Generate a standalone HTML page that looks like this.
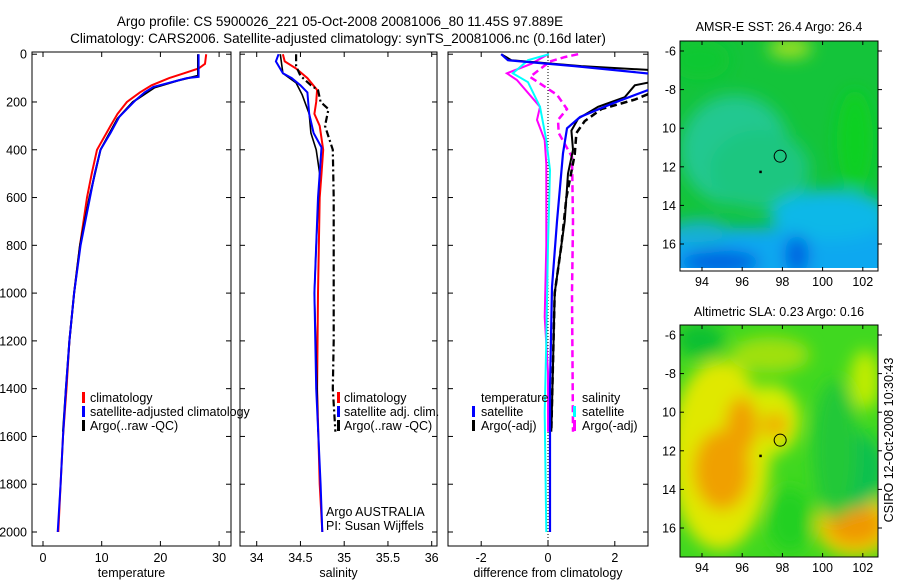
<!DOCTYPE html>
<html><head><meta charset="utf-8"><style>
body{margin:0;background:#fff;}
svg{display:block;font-family:"Liberation Sans",sans-serif;}
</style></head><body>
<svg id="fig" width="900" height="580" viewBox="0 0 900 580" xmlns="http://www.w3.org/2000/svg">
<defs>
<filter id="blur1" x="-50%" y="-50%" width="200%" height="200%"><feGaussianBlur stdDeviation="8"/></filter>
<clipPath id="c1"><rect x="32" y="52" width="199" height="494"/></clipPath>
<clipPath id="c2"><rect x="240" y="52" width="197" height="494"/></clipPath>
<clipPath id="c3"><rect x="448" y="52" width="200" height="494"/></clipPath>
<clipPath id="m1"><rect x="680" y="41" width="198" height="230"/></clipPath>
<clipPath id="m2"><rect x="680" y="325" width="198" height="232"/></clipPath>
</defs>
<text x="340" y="26" font-size="13.5" text-anchor="middle">Argo profile: CS 5900026_221 05-Oct-2008 20081006_80 11.45S 97.889E</text>
<text x="338" y="43" font-size="13.5" text-anchor="middle">Climatology: CARS2006. Satellite-adjusted climatology: synTS_20081006.nc (0.16d later)</text>

<g id="map1" clip-path="url(#m1)">
<rect x="680" y="41" width="198" height="230" fill="#14c43a"/>
<g filter="url(#blur1)">
<ellipse cx="735" cy="150" rx="55" ry="55" fill="#22c890"/>
<ellipse cx="760" cy="170" rx="50" ry="40" fill="#1cc680"/>
<ellipse cx="855" cy="140" rx="18" ry="50" fill="#10d020"/>
<ellipse cx="700" cy="60" rx="30" ry="20" fill="#10c830"/>
<ellipse cx="790" cy="48" rx="22" ry="10" fill="#a0e020"/>
<rect x="650" y="228" width="260" height="60" fill="#10a8f0"/>
<ellipse cx="830" cy="215" rx="60" ry="25" fill="#10b8e8"/>
<ellipse cx="720" cy="262" rx="40" ry="12" fill="#0060e0"/>
<ellipse cx="797" cy="255" rx="12" ry="20" fill="#0060e0"/>
<ellipse cx="700" cy="232" rx="30" ry="12" fill="#18b0d0"/>
</g>
<rect x="680" y="268" width="198" height="4" fill="#fff"/>
</g>
<rect x="680" y="41" width="198" height="230" fill="none" stroke="#000"/>

<g id="map2" clip-path="url(#m2)">
<rect x="680" y="325" width="198" height="232" fill="#40d820"/>
<g filter="url(#blur1)">
<ellipse cx="720" cy="455" rx="50" ry="95" fill="#e0e800"/>
<ellipse cx="770" cy="420" rx="30" ry="35" fill="#d8ec00"/>
<ellipse cx="722" cy="470" rx="28" ry="40" fill="#f0a000"/>
<ellipse cx="742" cy="425" rx="16" ry="28" fill="#f0a000"/>
<ellipse cx="775" cy="425" rx="13" ry="13" fill="#f0b000"/>
<ellipse cx="855" cy="525" rx="40" ry="32" fill="#e8d000"/>
<ellipse cx="855" cy="525" rx="28" ry="20" fill="#f09800"/>
<ellipse cx="850" cy="470" rx="35" ry="40" fill="#10c050"/>
<ellipse cx="835" cy="450" rx="22" ry="70" fill="#20c838"/>
<ellipse cx="700" cy="340" rx="25" ry="18" fill="#10c030"/>
<ellipse cx="770" cy="355" rx="40" ry="18" fill="#a0e010"/>
<ellipse cx="865" cy="380" rx="15" ry="30" fill="#c0ec00"/>
<ellipse cx="790" cy="520" rx="22" ry="32" fill="#20d020"/>
</g>
</g>
<rect x="680" y="325" width="198" height="232" fill="none" stroke="#000"/>
<text x="893" y="440" font-size="12.5" text-anchor="middle" transform="rotate(-90 893 440)">CSIRO 12-Oct-2008 10:30:43</text>
<g id="plots"></g>
</svg>
<script>
// ---- data ----
const tempClim=[[0,27.8],[40,27.6],[60,26.5],[80,24],[100,21.5],[130,18.5],[160,16.5],[200,14.3],[250,12.7],[300,11.5],[400,9.2],[500,8.3],[600,7.5],[700,6.9],[800,6.3],[1000,5.3],[1200,4.5],[1400,4],[1600,3.4],[1800,3],[2000,2.6]];
const tempSat=[[0,26.5],[95,26.5],[100,24.5],[110,23],[137,18.8],[160,17.3],[192,15.8],[262,13],[330,11.5],[400,9.8],[500,8.8],[600,8],[700,7.2],[800,6.4],[1000,5.3],[1200,4.5],[1400,3.9],[1600,3.4],[1800,3.0],[2000,2.5]];
const tempArgo=[[0,26.4],[90,26.4],[110,23],[140,19],[200,15.3],[270,12.7],[400,9.8],[600,7.9],[800,6.3],[1000,5.3],[1200,4.5],[1400,3.9],[1580,3.4]];
const salClim=[[0,34.3],[30,34.32],[60,34.45],[100,34.58],[150,34.69],[200,34.68],[250,34.66],[300,34.72],[400,34.76],[500,34.74],[600,34.72],[1000,34.7],[1400,34.69],[1800,34.72],[2000,34.75]];
const salSat=[[0,34.25],[30,34.22],[80,34.3],[100,34.4],[130,34.5],[160,34.58],[250,34.6],[330,34.65],[390,34.74],[500,34.72],[600,34.7],[1000,34.66],[1400,34.68],[1800,34.73],[2000,34.75]];
const salArgoRaw=[[0,34.27],[80,34.3],[120,34.45],[170,34.52],[250,34.6],[330,34.62],[400,34.68],[500,34.72],[800,34.68],[1000,34.66],[1400,34.69],[1580,34.7]];
const salArgo=[[0,34.45],[50,34.45],[90,34.5],[130,34.62],[150,34.7],[200,34.73],[230,34.82],[300,34.78],[400,34.87],[600,34.88],[800,34.88],[1000,34.88],[1200,34.88],[1400,34.87],[1580,34.9]];
const dTempSat=[[0,-1.4],[25,-1.2],[50,0.8],[88,3.5],[120,3.3],[150,3.0],[205,1.95],[263,0.96],[310,0.57],[415,0.45],[700,0.27],[975,0.12],[1400,0.06],[2000,0.06]];
const dTempArgo=[[0,-1.4],[25,-1.1],[50,1],[70,3.5],[110,3.3],[130,2.6],[180,2.3],[220,1.5],[270,0.9],[320,0.7],[400,0.75],[500,0.6],[700,0.5],[1000,0.2],[1300,0.15],[1580,0.1]];
const dTempArgoAdj=[[150,3.3],[190,2.6],[230,1.6],[280,1.1],[330,0.85],[420,0.8],[600,0.55],[800,0.4],[1000,0.2],[1580,0.1]];
const dSalSat=[[0,0.03],[25,-0.6],[80,-1.05],[117,-0.6],[220,-0.24],[360,-0.05],[485,0.06],[800,0.0],[1200,-0.05],[1500,-0.1],[2000,-0.05]];
const dSalArgo=[[0,0.0],[40,-0.5],[80,-1.23],[108,-0.93],[220,-0.24],[275,-0.33],[360,-0.1],[460,-0.05],[800,-0.05],[1100,-0.1],[1330,0.0],[1580,0.0]];
const dSalArgoAdj=[[0,0.9],[12,0.5],[30,0.06],[95,-0.54],[170,0.27],[230,0.57],[275,0.3],[330,0.32],[430,0.72],[700,0.75],[1000,0.72],[1580,0.75]];
const depthTicks=[0,200,400,600,800,1000,1200,1400,1600,1800,2000];
const tempTicks=[0,10,20,30];
const salTicks=[34,34.5,35,35.5,36];
const diffTicks=[-2,0,2];
const lonTicks=[94,96,98,100,102];
const latTicks=[-6,-8,-10,-12,-14,-16];
const argoLon=97.889, argoLat=-11.45;

// ---- axes ----
const NS='http://www.w3.org/2000/svg';
const g=document.getElementById('plots');
const yD=d=>54.2+d*0.2389;
const xT=v=>43+v*5.87;
const xS=v=>256.7+(v-34)*87.5;
const xDf=v=>548+v*33.4;
const mx=v=>702+(v-94)*20.1;
const my1=v=>51+(-6-v)*19.3;
const my2=v=>335+(-6-v)*19.3;
function el(tag,attrs,parent){const e=document.createElementNS(NS,tag);for(const k in attrs)e.setAttribute(k,attrs[k]);(parent||g).appendChild(e);return e;}
function txt(x,y,s,anchor,size){const t=el('text',{x:x,y:y,'font-size':size||12.5,'text-anchor':anchor||'middle'});t.textContent=s;return t;}
function line(data,xf,color,w,dash,clip,name){
  const p=data.map((d,i)=>(i?'L':'M')+xf(d[1]).toFixed(1)+','+yD(d[0]).toFixed(1)).join('');
  const e=el('path',{d:p,fill:'none',stroke:color,'stroke-width':w,'clip-path':'url(#'+clip+')'});
  if(dash)e.setAttribute('stroke-dasharray',dash);
  
  
}
function panel(x0,x1,xf,ticks,fmt,label,name,leftLabels){
  const fr=el('rect',{x:x0,y:52,width:x1-x0,height:494,fill:'none',stroke:'#000'});
  
  
  ticks.forEach(v=>{const X=xf(v);
    el('line',{x1:X,y1:52,x2:X,y2:57,stroke:'#000'});
    el('line',{x1:X,y1:546,x2:X,y2:541,stroke:'#000'});
    const t=txt(X,562,fmt(v));
    
    
  });
  depthTicks.forEach(d=>{const Y=yD(d);
    el('line',{x1:x0,y1:Y,x2:x0+5,y2:Y,stroke:'#000'});
    el('line',{x1:x1,y1:Y,x2:x1-5,y2:Y,stroke:'#000'});
    if(leftLabels){const t=txt(27,Y+4.5,String(d),'end');
      
      }
  });
  const l=txt((x0+x1)/2,577,label);
  
  
}
panel(32,231,xT,tempTicks,String,'temperature','temperature-panel',true);
panel(240,437,xS,salTicks,String,'salinity','salinity-panel',false);
panel(448,648,xDf,diffTicks,String,'difference from climatology','difference-panel',false);
el('line',{x1:xDf(0),y1:54,x2:xDf(0),y2:546,stroke:'#000','stroke-dasharray':'1,2'});

line(tempClim,xT,'#f00',2,null,'c1','temp-climatology-line');
line(tempArgo,xT,'#000',2,null,'c1','temp-argo-line');
line(tempSat,xT,'#00f',2,null,'c1','temp-satellite-line');
line(salClim,xS,'#f00',2,null,'c2','sal-climatology-line');
line(salArgo,xS,'#000',2.2,'7,3,2,3','c2','sal-argo-line');
line(salArgoRaw,xS,'#000',1.6,null,'c2','sal-argo-raw-line');
line(salSat,xS,'#00f',2,null,'c2','sal-satellite-line');
line(dSalArgo,xDf,'#f0f',2,null,'c3','diff-sal-argo-line');
line(dSalArgoAdj,xDf,'#f0f',2.5,'7,4','c3','diff-sal-argo-adj-line');
line(dTempArgo,xDf,'#000',2,null,'c3','diff-temp-argo-line');
line(dTempArgoAdj,xDf,'#000',2.5,'7,4','c3','diff-temp-argo-adj-line');
line(dSalSat,xDf,'#0ff',2,null,'c3','diff-sal-satellite-line');
line(dTempSat,xDf,'#00f',2.2,null,'c3','diff-temp-satellite-line');

function legend(mxp,tx,y,color,s,name){
  if(color){const m=el('rect',{x:mxp,y:y-10,width:3,height:11,fill:color});
    
    }
  const t=txt(tx,y,s,'start');
  
  
}
legend(82,90,402,'#f00','climatology','legend-temp-climatology');
legend(82,90,416,'#00f','satellite-adjusted climatology','legend-temp-satellite');
legend(82,90,430,'#000','Argo(..raw -QC)','legend-temp-argo');
legend(337,344,402,'#f00','climatology','legend-sal-climatology');
legend(337,344,416,'#00f','satellite adj. clim.','legend-sal-satellite');
legend(337,344,430,'#000','Argo(..raw -QC)','legend-sal-argo');
legend(0,481,402,null,'temperature','legend-diff-temperature-header');
legend(472,481,416,'#00f','satellite','legend-diff-temp-satellite');
legend(472,481,430,'#000','Argo(-adj)','legend-diff-temp-argo');
legend(0,582,402,null,'salinity','legend-diff-salinity-header');
legend(573,582,416,'#0ff','satellite','legend-diff-sal-satellite');
legend(573,582,430,'#f0f','Argo(-adj)','legend-diff-sal-argo');
legend(0,326,516,null,'Argo AUSTRALIA','argo-australia-label');
legend(0,326,530,null,'PI: Susan Wijffels','pi-label');

// maps
function mapAxes(top,bottom,myf,titleY,title,name){
  lonTicks.forEach(v=>{const X=mx(v);
    el('line',{x1:X,y1:top,x2:X,y2:top+4,stroke:'#000'});
    el('line',{x1:X,y1:bottom,x2:X,y2:bottom-4,stroke:'#000'});
    const t=txt(X,bottom+15,String(v));
    
    });
  latTicks.forEach(v=>{const Y=myf(v);
    el('line',{x1:878,y1:Y,x2:882,y2:Y,stroke:'#000'});
    el('line',{x1:680,y1:Y,x2:684,y2:Y,stroke:'#000'});
    const t=txt(676,Y+4.5,v<=-10?String(-v):String(v),'end');
    
    });
  const t=txt(779,titleY,title);
  
  
  const c=el('circle',{cx:mx(argoLon),cy:myf(argoLat),r:6,fill:'none',stroke:'#000'});
  
  
  el('rect',{x:mx(96.85),y:myf(-12.2),width:2.5,height:2.5,fill:'#000'});
}
mapAxes(41,271,my1,31,'AMSR-E SST: 26.4 Argo: 26.4','sst-map');
mapAxes(325,557,my2,316,'Altimetric SLA: 0.23 Argo: 0.16','sla-map');
</script>
</body></html>
